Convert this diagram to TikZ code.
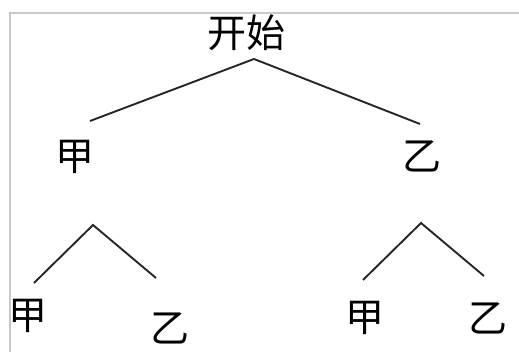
\documentclass[tikz,border=0pt]{standalone}
\usepackage{fontspec}
\usepackage{tikz}
\usepackage{xcolor}
\newfontfamily\cjk{Noto Sans CJK SC}
\definecolor{framegray}{RGB}{200,200,200}

\begin{document}
\begin{tikzpicture}[
    x=1pt, y=-1pt,
    label/.style={inner sep=0pt, font=\cjk\fontsize{39}{39}\selectfont},
    branch/.style={line width=1.9pt, black!85},
    frame/.style={line width=1.2pt, framegray}
]
\useasboundingbox (0,0) rectangle (519,352);

% Frame (top and left edges only)
\coordinate (c1) at (10,352);
\coordinate (c2) at (10,13);
\coordinate (c3) at (519,13);
\draw [frame] (c1) -- (c2) -- (c3);

% Labels
\node [label] (start) at (246,33) {开始};
\node [label] (jia) at (75,157) {甲};
\node [label] (yi) at (422,156) {乙};
\node [label] (jiajia) at (28,316) {甲};
\node [label] (jiayi) at (170,328) {乙};
\node [label] (yijia) at (365,318) {甲};
\node [label] (yiyi) at (488,318) {乙};

% Branch points
\coordinate (top) at (254,59);
\coordinate (topL) at (90,121);
\coordinate (topR) at (420,124);
\coordinate (jtop) at (93,225);
\coordinate (jL) at (34,283);
\coordinate (jR) at (156,278);
\coordinate (ytop) at (421,223);
\coordinate (yL) at (363,280);
\coordinate (yR) at (484,276);

% Branches
\draw [branch] (topL) -- (top) -- (topR);
\draw [branch] (jL) -- (jtop) -- (jR);
\draw [branch] (yL) -- (ytop) -- (yR);

\end{tikzpicture}
\end{document}
